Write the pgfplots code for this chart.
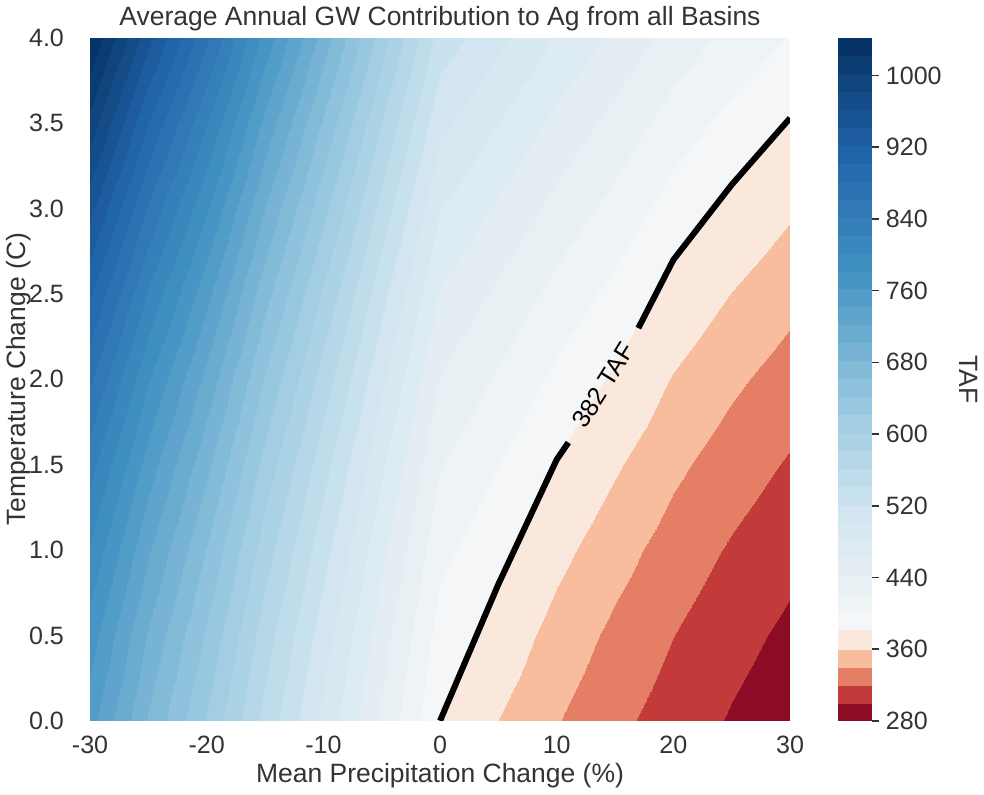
\documentclass[border=0pt]{standalone}
\usepackage{pgfplots}
\pgfplotsset{compat=1.18}
\usepackage{fontspec}
\setmainfont{Liberation Sans}
\definecolor{txt}{HTML}{333333}
\newcommand{\fs}{\fontsize{12.5}{15}\selectfont}
\newcommand{\fl}{\fontsize{13.2}{16}\selectfont}
\pgfplotsset{
  colormap={taf}{
    rgb255(0pt)=(140,12,37)
    rgb255(20pt)=(195,58,59)
    rgb255(40pt)=(228,127,101)
    rgb255(60pt)=(248,188,159)
    rgb255(80pt)=(250,232,221)
    rgb255(102pt)=(244,246,247)
    rgb255(122pt)=(238,243,245)
    rgb255(142pt)=(233,240,244)
    rgb255(162pt)=(227,237,243)
    rgb255(182pt)=(221,235,242)
    rgb255(202pt)=(215,232,241)
    rgb255(222pt)=(210,229,240)
    rgb255(242pt)=(200,225,238)
    rgb255(262pt)=(191,220,235)
    rgb255(282pt)=(181,215,232)
    rgb255(302pt)=(171,210,229)
    rgb255(322pt)=(162,205,227)
    rgb255(342pt)=(152,200,224)
    rgb255(362pt)=(142,194,221)
    rgb255(382pt)=(130,187,216)
    rgb255(402pt)=(118,179,212)
    rgb255(422pt)=(106,172,208)
    rgb255(442pt)=(94,164,204)
    rgb255(462pt)=(82,156,200)
    rgb255(482pt)=(70,149,196)
    rgb255(502pt)=(63,142,192)
    rgb255(522pt)=(58,135,189)
    rgb255(542pt)=(53,128,185)
    rgb255(562pt)=(48,121,182)
    rgb255(582pt)=(42,114,178)
    rgb255(602pt)=(37,108,175)
    rgb255(622pt)=(32,101,170)
    rgb255(642pt)=(28,92,159)
    rgb255(662pt)=(24,84,147)
    rgb255(682pt)=(20,76,136)
    rgb255(702pt)=(15,68,124)
    rgb255(722pt)=(11,60,113)
    rgb255(742pt)=(7,51,102)
    rgb255(762pt)=(7,51,102)
  }
}
\begin{document}
\begin{tikzpicture}
\begin{axis}[
  view={0}{90},
  scale only axis,
  width=349pt, height=340.5pt,
  xmin=-30, xmax=30, ymin=0, ymax=4,
  enlargelimits=false,
  axis line style={draw=none},
  major tick length=0pt,
  tick style={draw=none},
  xtick={-30,-20,-10,0,10,20,30},
  xticklabels={-30,-20,-10,0,10,20,30},
  ytick={0,0.5,1,1.5,2,2.5,3,3.5,4},
  yticklabels={0.0,0.5,1.0,1.5,2.0,2.5,3.0,3.5,4.0},
  ztick=\empty,
  x tick label style={font=\fs, text=txt, yshift=-4pt},
  y tick label style={font=\fs, text=txt, xshift=-9.5pt},
  title={Average Annual GW Contribution to Ag from all Basins},
  title style={font=\fl, text=txt, at={(axis description cs:0.5,1.0)}, anchor=base},
  xlabel={Mean Precipitation Change (\%)},
  xlabel style={font=\fl, text=txt, at={(axis description cs:0.5,-0.0896)}, anchor=base},
  ylabel={Temperature Change (C)},
  ylabel style={font=\fl, text=txt, at={(axis description cs:-0.0917,0.5)}, anchor=base},
  colormap name=taf,
  colormap access=piecewise constant,
  point meta min=280, point meta max=1042,
  colorbar,
  colorbar shift/.style={xshift=13.5pt},
  colorbar style={
    width=17pt,
    colormap access=piecewise constant,
    axis line style={draw=none},
    ytick={280,360,440,520,600,680,760,840,920,1000},
    yticklabels={280,360,440,520,600,680,760,840,920,1000},
    ytick pos=right,
    tick align=outside, major tick length=3.5pt,
    ytick style={draw=txt, line width=0.8pt},
    yticklabel style={font=\fs, text=txt},
    ylabel={TAF},
    ylabel style={font=\fl, text=txt, rotate=180, at={(axis description cs:3.56,0.5)}, anchor=base},
  },
]
\addplot3[surf, shader=interp, point meta=z] table {
x y z
-30 0 750
-25 0 680
-20 0 620
-15 0 555
-10 0 497
-5 0 438
0 0 382
5 0 360
10 0 341
15 0 325
20 0 311
25 0 298
30 0 287

-30 0.5 772.7
-25 0.5 700.6
-20 0.5 638.8
-15 0.5 571.8
-10 0.5 512.0
-5 0.5 451.2
0 0.5 393.6
5 0.5 373.5
10 0.5 352.5
15 0.5 335.5
20 0.5 320.4
25 0.5 307.0
30 0.5 295.7

-30 1 799.5
-25 1 724.9
-20 1 660.9
-15 1 591.6
-10 1 529.8
-5 1 466.9
0 1 407.2
5 1 387.5
10 1 366.0
15 1 348.0
20 1 331.5
25 1 317.7
30 1 305.9

-30 1.5 830.4
-25 1.5 752.9
-20 1.5 686.5
-15 1.5 614.5
-10 1.5 550.3
-5 1.5 485.0
0 1.5 423.0
5 1.5 402.0
10 1.5 381.0
15 1.5 362.5
20 1.5 344.4
25 1.5 330.0
30 1.5 317.8

-30 2 865.5
-25 2 784.7
-20 2 715.5
-15 2 640.5
-10 2 573.5
-5 2 505.5
0 2 440.8
5 2 419.0
10 2 397.0
15 2 379.0
20 2 358.9
25 2 343.9
30 2 331.2

-30 2.5 904.7
-25 2.5 820.3
-20 2.5 747.9
-15 2.5 669.5
-10 2.5 599.5
-5 2.5 528.3
0 2.5 460.8
5 2.5 438.0
10 2.5 415.0
15 2.5 396.0
20 2.5 375.1
25 2.5 359.5
30 2.5 346.2

-30 3 948.0
-25 3 859.5
-20 3 783.7
-15 3 701.5
-10 3 628.2
-5 3 553.6
0 3 482.8
5 3 459.0
10 3 435.0
15 3 415.0
20 3 393.1
25 3 376.7
30 3 362.8

-30 3.5 995.4
-25 3.5 902.5
-20 3.5 822.9
-15 3.5 736.6
-10 3.5 659.6
-5 3.5 581.3
0 3.5 507.0
5 3.5 482.0
10 3.5 456.5
15 3.5 435.5
20 3.5 412.8
25 3.5 395.5
30 3.5 380.9

-30 4 1047.0
-25 4 949.3
-20 4 865.5
-15 4 774.8
-10 4 693.8
-5 4 611.4
0 4 533.3
5 4 507.0
10 4 480.0
15 4 457.5
20 4 434.2
25 4 416.0
30 4 400.7
};
\addplot3[black, line width=3pt] coordinates {(0,0,0) (5,0.80,0) (10,1.53,0) (11,1.63,0)};
\addplot3[black, line width=3pt] coordinates {(17,2.30,0) (20,2.70,0) (25,3.14,0) (30,3.53,0)};
\node[font=\fs, rotate=58, text=black] at (axis cs:14,1.965,0) {382 TAF};
\end{axis}
\end{tikzpicture}
\end{document}
